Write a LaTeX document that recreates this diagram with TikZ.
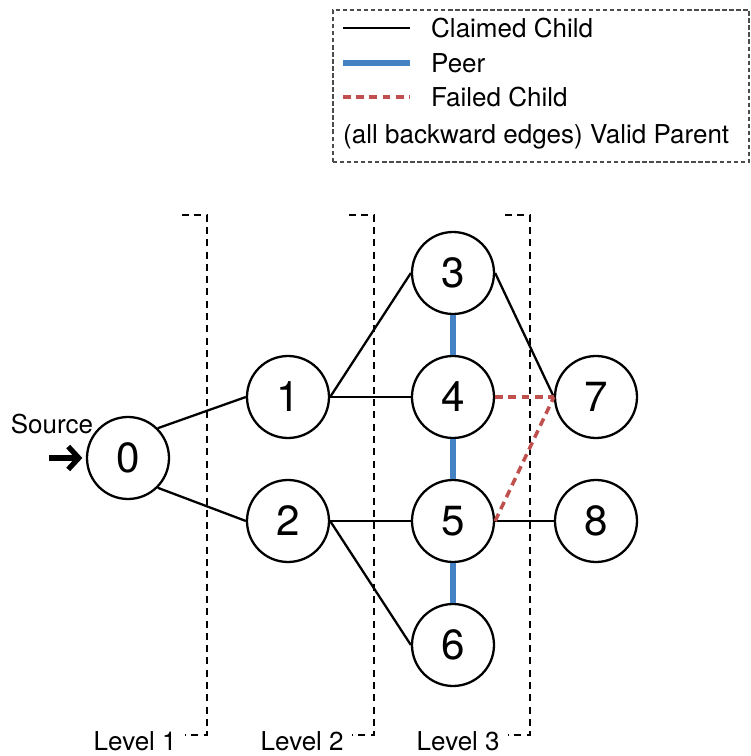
\documentclass[tikz,border=0pt]{standalone}
\usepackage{fontspec}
\setmainfont{TeX Gyre Heros}
\usetikzlibrary{arrows.meta}

\definecolor{peerblue}{RGB}{68,130,196}
\definecolor{failred}{RGB}{192,80,77}

\tikzset{
  vertex/.style={circle, draw=black, line width=1.3pt, minimum size=1.64cm, inner sep=0pt,
    font=\fontsize{24}{24}\selectfont},
  claimed/.style={black, line width=1.3pt},
  peer/.style={peerblue, line width=3pt},
  failed/.style={failred, line width=2pt, dash pattern=on 4.5pt off 3pt},
  levelline/.style={black, line width=1.2pt, dash pattern=on 4pt off 3pt},
  legendtext/.style={font=\fontsize{14.8}{16}\selectfont}
}

\begin{document}
\begin{tikzpicture}

    \useasboundingbox (0,0) rectangle (15,15.12);

    % legend
    \draw[black!70, line width=0.6pt, dash pattern=on 2.5pt off 1.5pt] (6.66,11.88) rectangle (14.98,14.92);
    \draw[claimed] (6.86,14.56) -- (8.2,14.56);
    \node[legendtext, anchor=west] (lclaimed) at (8.5,14.56) {Claimed Child};
    \draw[peer] (6.86,13.86) -- (8.2,13.86);
    \node[legendtext, anchor=west] (lpeer) at (8.5,13.86) {Peer};
    \draw[failed] (6.86,13.18) -- (8.2,13.18);
    \node[legendtext, anchor=west] (lfailed) at (8.5,13.18) {Failed Child};
    \node[legendtext, anchor=west] (lparent) at (6.74,12.38) {(all backward edges) Valid Parent};

    % level brackets
    \foreach \x/\lvl in {4.14/1, 7.48/2, 10.6/3} {
        \draw[levelline] (\x-0.5,10.82) -- (\x,10.82) -- (\x,0.42) -- (\x-0.45,0.42);
        \node[legendtext, inner sep=0pt, anchor=base east] (level\lvl) at (\x-0.6,0.12) {Level \lvl};
    }

    % vertices
    \node[vertex] (n0) at (2.56,5.96) {0};
    \node[vertex] (n1) at (5.76,7.18) {1};
    \node[vertex] (n2) at (5.76,4.70) {2};
    \node[vertex] (n3) at (9.06,9.66) {3};
    \node[vertex] (n4) at (9.06,7.18) {4};
    \node[vertex] (n5) at (9.06,4.70) {5};
    \node[vertex] (n6) at (9.06,2.22) {6};
    \node[vertex] (n7) at (11.92,7.18) {7};
    \node[vertex] (n8) at (11.92,4.70) {8};

    % source
    \node[legendtext] (source) at (1.04,6.64) {Source};
    \coordinate (srcin) at (0.98,5.96);
    \draw[line width=3pt, -{Straight Barb[length=6pt, width=13pt, line width=3pt]}] (srcin) -- ([xshift=-2pt]n0.west);

    % claimed children
    \draw[claimed] (n0.north east) -- (n1.west);
    \draw[claimed] (n0.south east) -- (n2.west);
    \draw[claimed] (n1.east) -- (n3.west);
    \draw[claimed] (n1.east) -- (n4.west);
    \draw[claimed] (n2.east) -- (n5.west);
    \draw[claimed] (n2.east) -- (n6.west);
    \draw[claimed] (n3.east) -- (n7.west);
    \draw[claimed] (n5.east) -- (n8.west);

    % peers
    \draw[peer] (n3) -- (n4);
    \draw[peer] (n4) -- (n5);
    \draw[peer] (n5) -- (n6);

    % failed children
    \draw[failed] (n4.east) -- (n7.west);
    \draw[failed] (n5.east) -- (n7.west);

\end{tikzpicture}
\end{document}
